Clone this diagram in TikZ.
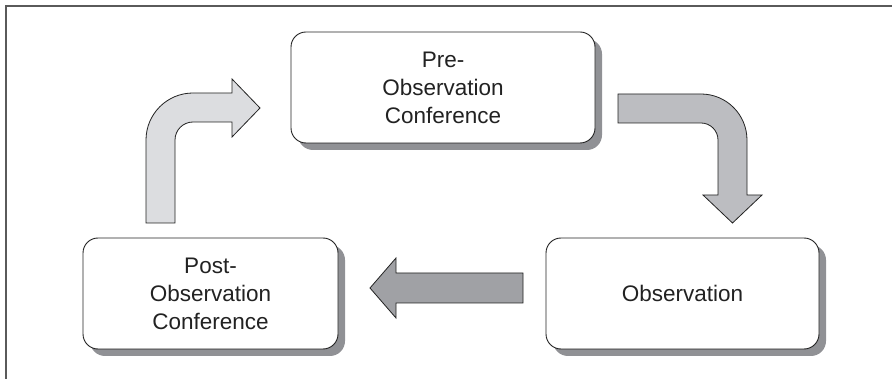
\documentclass[tikz,border=0pt]{standalone}
\usepackage{fontspec}
\setmainfont{Liberation Sans}
\usetikzlibrary{shadows}
\definecolor{inkc}{HTML}{222222}
\definecolor{framec}{HTML}{5A5A5A}
\definecolor{shadowc}{HTML}{909195}
\definecolor{lightarr}{HTML}{DCDDE0}
\definecolor{midarr}{HTML}{BCBDC1}
\definecolor{darkarr}{HTML}{A0A1A5}
\tikzset{
  stagebox/.style={draw=inkc, line width=0.9pt, fill=white, rounded corners=15pt,
    align=center, text=inkc, font=\fontsize{22.5}{28}\selectfont,
    minimum height=111pt, inner sep=0pt,
    drop shadow={shadow xshift=7pt, shadow yshift=-7pt, fill=shadowc, opacity=1}},
  blockarrow/.style={draw=inkc, line width=0.8pt, line join=miter}
}
\begin{document}
\begin{tikzpicture}[x=1pt,y=-1pt]
\useasboundingbox (0,0) rectangle (892,379);
\draw[framec, line width=1.4pt] (6,379) -- (6,6) -- (892,6);

\node[stagebox, minimum width=304pt] (pre) at (443,87.5) {Pre-\\Observation\\Conference};
\node[stagebox, minimum width=273pt] (obs) at (682.5,293.5) {Observation};
\node[stagebox, minimum width=255pt] (post) at (210.5,293.5) {Post-\\Observation\\Conference};

% left bent arrow (post -> pre)
\filldraw[blockarrow, fill=lightarr] (146,223) -- (146,140)
  .. controls (146,114.04) and (167.04,93) .. (193,93)
  -- (232,93) -- (232,79) -- (260,108) -- (232,137) -- (232,122) -- (193,122)
  .. controls (183.06,122) and (175,130.06) .. (175,140)
  -- (175,223) -- cycle;

% right bent arrow (pre -> obs)
\filldraw[blockarrow, fill=midarr] (618,94) -- (701,94)
  .. controls (726.4,94) and (747,114.6) .. (747,140)
  -- (747,195) -- (762,195) -- (732.5,223) -- (703,195) -- (718,195) -- (718,140)
  .. controls (718,130.6) and (710.4,123) .. (701,123)
  -- (618,123) -- cycle;

% horizontal arrow (obs -> post)
\filldraw[blockarrow, fill=darkarr] (523,273) -- (396,273) -- (396,258) -- (370,288)
  -- (396,318) -- (396,303) -- (523,303) -- cycle;
\end{tikzpicture}
\end{document}
